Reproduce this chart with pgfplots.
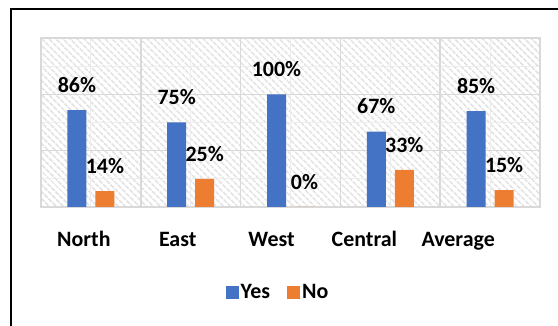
\documentclass[border=0pt]{standalone}
\usepackage{fontspec}
\setmainfont{Carlito}
\usepackage{pgfplots}
\pgfplotsset{compat=1.18}
\usetikzlibrary{patterns.meta}
\definecolor{yesc}{HTML}{4472C4}
\definecolor{noc}{HTML}{ED7D31}
\definecolor{gridc}{HTML}{D9D9D9}
\definecolor{hatchc}{HTML}{E2E2E2}
\definecolor{minorc}{HTML}{EDEDED}
\begin{document}
\begin{tikzpicture}
\useasboundingbox (0,0) rectangle (558bp,326bp);
\begin{scope}
\clip (0,0) rectangle (558bp,326bp);
\draw[line width=2bp] (11bp,-20bp) -- (11bp,317bp) -- (600bp,317bp);
\end{scope}
\begin{axis}[
  scale only axis, width=499bp, height=169bp,
  at={(41bp,119bp)}, anchor=south west,
  xmin=-0.5, xmax=4.5, ymin=0, ymax=150,
  ybar=9bp, bar width=19bp,
  /pgf/number format/assume math mode=true,
  axis background/.style={pattern={Lines[angle=-45,distance=5.2bp,line width=1.8bp]}, pattern color=hatchc},
  axis line style={gridc, line width=1.5bp},
  ytick={0,50,100,150}, yticklabels={,,,},
  minor ytick={25,75,125},
  ymajorgrids=true, yminorgrids=true,
  xtick={-0.07,0.87,1.81,2.74,3.68},
  xticklabels={North,East,West,Central,Average},
  minor xtick={0,1,2,3,4}, xminorgrids=true,
  extra x ticks={0.5,1.5,2.5,3.5}, extra x tick labels={},
  extra x tick style={xmajorgrids=true},
  major grid style={gridc, line width=1.5bp},
  minor grid style={minorc, line width=1bp},
  tick style={draw=none},
  xticklabel style={anchor=base, yshift=-35.5bp, font=\fontsize{22}{26}\selectfont\bfseries},
  nodes near coords={\pgfmathprintnumber{\pgfplotspointmeta}\%},
  every node near coord/.append style={anchor=center, yshift=25bp, font=\fontsize{22}{26}\selectfont\bfseries, black},
  legend columns=2,
  legend style={draw=none, fill=none, at={(0.475,-0.503)}, anchor=center,
    font=\fontsize{22}{26}\selectfont\bfseries,
    /tikz/every even column/.append style={column sep=15bp},
    inner sep=0pt},
  legend image code/.code={\fill[#1,draw=none] (0bp,-6.5bp) rectangle (13bp,6.5bp);},
]
\addplot[fill=yesc, draw=none] coordinates {(0,86) (1,75) (2,100) (3,67) (4,85)};
\addplot[fill=noc, draw=none] coordinates {(0,14) (1,25) (2,0) (3,33) (4,15)};
\legend{Yes,No}
\end{axis}
\end{tikzpicture}
\end{document}
